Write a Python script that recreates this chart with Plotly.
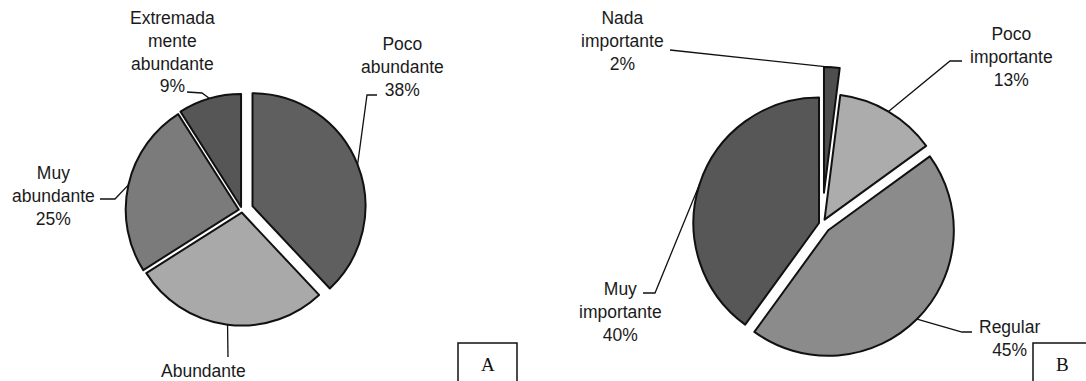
import math
import plotly.graph_objects as go

W, H = 1086, 381

# ---- Panel A: abundance ----
a_names = ["Poco<br>abundante", "Abundante", "Muy<br>abundante", "Extremada<br>mente<br>abundante"]
a_values = [38, 28, 25, 9]

# ---- Panel B: importance ----
b_names = ["Nada<br>importante", "Poco<br>importante", "Regular", "Muy<br>importante"]
b_values = [2, 13, 45, 40]

panel_tags = ["A", "B"]

# styling
a_colors = ["#5f5f5f", "#a9a9a9", "#7b7b7b", "#565656"]
a_pull = [0.10, 0.02, 0.03, 0.03]
b_colors = ["#4e4e4e", "#acacac", "#8b8b8b", "#575757"]
b_pull = [0.25, 0.04, 0.07, 0.025]

# the bottom label sits on the page edge, so only its name line is shown
a_show_pct = [True, False, True, True]
b_show_pct = [True, True, True, True]

# pie boxes in pixels: (left, right, top, bottom)
a_box = (117.7, 366.3, 86.0, 334.6)
b_box = (665.0, 979.0, 67.0, 381.0)

# label anchors (center x, top y) and leader elbows, in pixels
a_label_pos = [(402, 32), (203, 359), (53, 161), (172, 6)]
a_elbows = [[(377, 95), (367, 95)], [(228, 357)], [(100, 199), (115, 199)], [(187, 92), (202, 93)]]
b_label_pos = [(622, 6), (1011, 22), (1009, 315), (620, 277)]
b_elbows = [[(670, 50)], [(962, 61), (950, 61)], [(972, 332), (962, 332)], [(643, 293), (655, 293)]]

FONT = "Liberation Sans, Arial, sans-serif"
FS = 17.5


def px_to_paper(x, y):
    return x / W, 1 - y / H


def box_domain(box):
    l, r, t, b = box
    return dict(x=[l / W, r / W], y=[1 - b / H, 1 - t / H])


def pie_geometry(box, pulls):
    l, r, t, b = box
    bw, bh = r - l, b - t
    rad = min(bw, bh) / (2 + 2 * max(pulls))
    return (l + r) / 2, (t + b) / 2, rad


def edge_points(values, pulls, box):
    cx, cy, rad = pie_geometry(box, pulls)
    total = sum(values)
    pts = []
    acc = 0.0
    for v, p in zip(values, pulls):
        mid = (acc + v / 2) / total * 2 * math.pi
        acc += v
        d = rad * (1 + p)
        pts.append((cx + d * math.sin(mid), cy - d * math.cos(mid)))
    return pts


fig = go.Figure()

shapes = []
annotations = []

for names, values, colors, pulls, box, lpos, elbows, show_pct in [
    (a_names, a_values, a_colors, a_pull, a_box, a_label_pos, a_elbows, a_show_pct),
    (b_names, b_values, b_colors, b_pull, b_box, b_label_pos, b_elbows, b_show_pct),
]:
    fig.add_trace(go.Pie(
        labels=[n.replace("<br>", " ") for n in names],
        values=values,
        pull=pulls,
        sort=False,
        direction="clockwise",
        rotation=0,
        textinfo="none",
        marker=dict(colors=colors, line=dict(color="#111111", width=2)),
        domain=box_domain(box),
        showlegend=False,
    ))
    total = sum(values)
    for name, v, (tx, ty), elb, edge, sp in zip(names, values, lpos, elbows,
                                                edge_points(values, pulls, box), show_pct):
        pct = round(100 * v / total)
        x, y = px_to_paper(tx, ty)
        annotations.append(dict(
            x=x, y=y, xref="paper", yref="paper", xanchor="center", yanchor="top",
            text=f"{name}<br>{pct}%" if sp else name, showarrow=False, align="center",
            font=dict(family=FONT, size=FS, color="#1a1a1a"),
        ))
        pts = elb + [edge]
        path = ""
        for i, (px, py) in enumerate(pts):
            qx, qy = px_to_paper(px, py)
            path += ("M" if i == 0 else " L") + f"{qx:.5f},{qy:.5f}"
        shapes.append(dict(type="path", path=path, xref="paper", yref="paper",
                           line=dict(color="#111111", width=1.3)))

# panel tag boxes
for tag, (x0, x1) in zip(panel_tags, [(458, 517), (1033, 1092)]):
    px0, py0 = px_to_paper(x0, 385)
    px1, py1 = px_to_paper(x1, 343)
    shapes.append(dict(type="rect", xref="paper", yref="paper", x0=px0, x1=px1, y0=py0, y1=py1,
                       line=dict(color="#111111", width=1.5), fillcolor="rgba(0,0,0,0)"))
    cx, cy = px_to_paper((x0 + x1) / 2, 364)
    annotations.append(dict(x=cx, y=cy, xref="paper", yref="paper", xanchor="center", yanchor="middle",
                            text=tag, showarrow=False,
                            font=dict(family="Liberation Serif, Times New Roman, serif", size=19, color="#111111")))

fig.update_layout(
    width=W, height=H,
    margin=dict(l=0, r=0, t=0, b=0),
    paper_bgcolor="white", plot_bgcolor="white",
    shapes=shapes, annotations=annotations,
)

fig.write_html("out.html")
